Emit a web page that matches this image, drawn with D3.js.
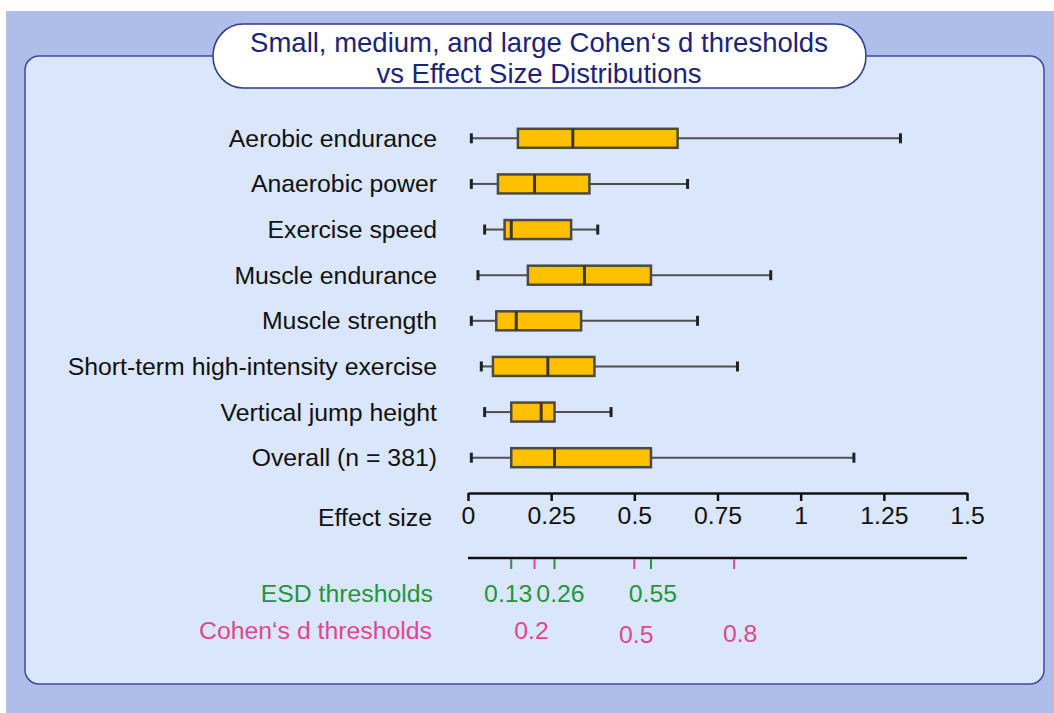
<!DOCTYPE html>
<html>
<head>
<meta charset="utf-8">
<script src="https://cdn.jsdelivr.net/npm/d3@7"></script>
<style>
  html, body { margin: 0; padding: 0; background: #ffffff; }
  svg { display: block; }
  text { font-family: "Liberation Sans", Arial, Helvetica, sans-serif; }
</style>
</head>
<body>
<svg id="chart" width="1054" height="713"></svg>
<script>
// ---- data ----
const categories = [
  "Aerobic endurance",
  "Anaerobic power",
  "Exercise speed",
  "Muscle endurance",
  "Muscle strength",
  "Short-term high-intensity exercise",
  "Vertical jump height",
  "Overall (n = 381)"
];
const whiskerMin = [0.01, 0.01, 0.05, 0.03, 0.01, 0.04, 0.05, 0.01];
const quartile1  = [0.15, 0.09, 0.11, 0.18, 0.085, 0.075, 0.13, 0.13];
const medians    = [0.315, 0.20, 0.13, 0.35, 0.145, 0.24, 0.22, 0.26];
const quartile3  = [0.63, 0.365, 0.31, 0.55, 0.34, 0.38, 0.26, 0.55];
const whiskerMax = [1.30, 0.66, 0.39, 0.91, 0.69, 0.81, 0.43, 1.16];

const axisTicks = [0, 0.25, 0.5, 0.75, 1, 1.25, 1.5];
const axisTickLabels = ["0", "0.25", "0.5", "0.75", "1", "1.25", "1.5"];

const esdThresholds = [0.13, 0.26, 0.55];
const esdLabels = ["0.13", "0.26", "0.55"];
const cohenThresholds = [0.2, 0.5, 0.8];
const cohenLabels = ["0.2", "0.5", "0.8"];

const titleLines = ["Small, medium, and large Cohen\u2018s d thresholds", "vs Effect Size Distributions"];

// ---- drawing ----
const svg = d3.select("#chart");
const FONT = 24.8;

// backgrounds
svg.append("rect").attr("x", 6).attr("y", 11).attr("width", 1048).attr("height", 702)
  .attr("fill", "#AFBDE9");
svg.append("rect").attr("x", 25).attr("y", 56).attr("width", 1019).attr("height", 628)
  .attr("rx", 14).attr("ry", 14)
  .attr("fill", "#D9E6FC").attr("stroke", "#3E4A98").attr("stroke-width", 1.5);

// title pill
svg.append("rect").attr("x", 213).attr("y", 24).attr("width", 653).attr("height", 64)
  .attr("rx", 30).attr("ry", 32)
  .attr("fill", "#ffffff").attr("stroke", "#2E3A8A").attr("stroke-width", 1.5);
svg.selectAll("text.title").data(titleLines).join("text")
  .attr("class", "title")
  .attr("x", 539).attr("y", (d, i) => 42 + i * 31)
  .attr("text-anchor", "middle").attr("dominant-baseline", "central")
  .attr("font-size", 27.5).attr("fill", "#1C2478")
  .text(d => d);

const x = d3.scaleLinear().domain([0, 1.5]).range([468, 967]);
const y = d3.scalePoint().domain(categories).range([138.3, 457.7]);
const boxH = 19;

// category labels
svg.selectAll("text.cat").data(categories).join("text")
  .attr("class", "cat")
  .attr("x", 437).attr("y", d => y(d))
  .attr("text-anchor", "end").attr("dominant-baseline", "central")
  .attr("font-size", FONT).attr("fill", "#111")
  .text(d => d);

const rows = categories.map((c, i) => ({
  c, lo: whiskerMin[i], q1: quartile1[i], med: medians[i], q3: quartile3[i], hi: whiskerMax[i]
}));

const g = svg.append("g");
const row = g.selectAll("g.row").data(rows).join("g").attr("class", "row");

// whisker lines
row.append("line")
  .attr("x1", d => x(d.lo)).attr("x2", d => x(d.q1))
  .attr("y1", d => y(d.c)).attr("y2", d => y(d.c))
  .attr("stroke", "#4F4F4F").attr("stroke-width", 2);
row.append("line")
  .attr("x1", d => x(d.q3)).attr("x2", d => x(d.hi))
  .attr("y1", d => y(d.c)).attr("y2", d => y(d.c))
  .attr("stroke", "#4F4F4F").attr("stroke-width", 2);
// caps
row.selectAll("line.cap").data(d => [[d.lo, d.c], [d.hi, d.c]]).join("line")
  .attr("class", "cap")
  .attr("x1", d => x(d[0])).attr("x2", d => x(d[0]))
  .attr("y1", d => y(d[1]) - 5).attr("y2", d => y(d[1]) + 5)
  .attr("stroke", "#222").attr("stroke-width", 3);
// boxes
row.append("rect")
  .attr("x", d => x(d.q1)).attr("width", d => x(d.q3) - x(d.q1))
  .attr("y", d => y(d.c) - boxH / 2).attr("height", boxH)
  .attr("fill", "#FFC000").attr("stroke", "#4C4A40").attr("stroke-width", 2.5);
// median
row.append("line")
  .attr("x1", d => x(d.med)).attr("x2", d => x(d.med))
  .attr("y1", d => y(d.c) - boxH / 2).attr("y2", d => y(d.c) + boxH / 2)
  .attr("stroke", "#3A3628").attr("stroke-width", 3);

// main axis
const axis = d3.axisBottom(x).tickValues(axisTicks)
  .tickFormat((d, i) => axisTickLabels[i])
  .tickSize(8).tickSizeOuter(0).tickPadding(5);
const ag = svg.append("g").attr("transform", "translate(0,493)").call(axis);
ag.select(".domain").attr("stroke", "#111").attr("stroke-width", 2.5);
ag.selectAll(".tick line").attr("stroke", "#111").attr("stroke-width", 2.5);
ag.selectAll(".tick text").attr("font-size", FONT).attr("fill", "#111")
  .attr("font-family", "Liberation Sans, Arial, sans-serif");

svg.append("text").attr("x", 432).attr("y", 517)
  .attr("text-anchor", "end").attr("dominant-baseline", "central")
  .attr("font-size", FONT).attr("fill", "#111").text("Effect size");

// thresholds line
svg.append("line").attr("x1", x(0)).attr("x2", x(1.5)).attr("y1", 558).attr("y2", 558)
  .attr("stroke", "#111").attr("stroke-width", 2.5);

const GREEN = "#22963A";
const PINK = "#E2468E";

svg.selectAll("line.esd").data(esdThresholds).join("line").attr("class", "esd")
  .attr("x1", d => x(d)).attr("x2", d => x(d)).attr("y1", 559).attr("y2", 569)
  .attr("stroke", GREEN).attr("stroke-width", 2);
svg.selectAll("line.coh").data(cohenThresholds).join("line").attr("class", "coh")
  .attr("x1", d => x(d)).attr("x2", d => x(d)).attr("y1", 559).attr("y2", 569)
  .attr("stroke", PINK).attr("stroke-width", 2);

const esdShift = [-3, 6, 2];
svg.selectAll("text.esd").data(esdThresholds).join("text").attr("class", "esd")
  .attr("x", (d, i) => x(d) + esdShift[i]).attr("y", 593)
  .attr("text-anchor", "middle").attr("dominant-baseline", "central")
  .attr("font-size", FONT).attr("fill", GREEN)
  .text((d, i) => esdLabels[i]);
const cohShift = [[-3, -1], [2, 3], [6, 2]];
svg.selectAll("text.coh").data(cohenThresholds).join("text").attr("class", "coh")
  .attr("x", (d, i) => x(d) + cohShift[i][0]).attr("y", (d, i) => 631 + cohShift[i][1])
  .attr("text-anchor", "middle").attr("dominant-baseline", "central")
  .attr("font-size", FONT).attr("fill", PINK)
  .text((d, i) => cohenLabels[i]);

svg.append("text").attr("x", 433).attr("y", 593)
  .attr("text-anchor", "end").attr("dominant-baseline", "central")
  .attr("font-size", FONT).attr("fill", GREEN).text("ESD thresholds");
svg.append("text").attr("x", 432).attr("y", 630)
  .attr("text-anchor", "end").attr("dominant-baseline", "central")
  .attr("font-size", FONT).attr("fill", PINK).text("Cohen\u2018s d thresholds");
</script>
</body>
</html>
